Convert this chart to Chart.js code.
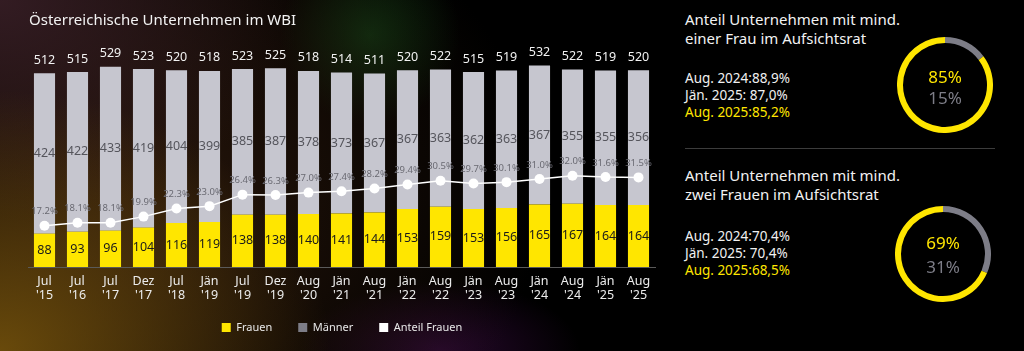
<!DOCTYPE html>
<html lang="de">
<head>
<meta charset="utf-8">
<script src="https://cdn.jsdelivr.net/npm/chart.js@4.4.1/dist/chart.umd.min.js"></script>
<style>
  html, body { margin: 0; padding: 0; }
  body {
    width: 1024px; height: 351px; overflow: hidden; position: relative;
    font-family: "Noto Sans", sans-serif; color: #f0f0f0;
    background:
      radial-gradient(ellipse 330px 260px at 0px 351px, rgba(120, 85, 12, 0.85), rgba(0,0,0,0) 100%),
      radial-gradient(ellipse 300px 220px at 0px 0px, rgba(55, 30, 38, 0.9), rgba(0,0,0,0) 100%),
      radial-gradient(ellipse 420px 351px at 120px 200px, rgba(45, 25, 12, 0.9), rgba(0,0,0,0) 100%),
      radial-gradient(circle 90px at 370px 35px, rgba(18, 75, 25, 0.6), rgba(0,0,0,0) 100%),
      radial-gradient(ellipse 140px 70px at 440px 351px, rgba(70, 15, 80, 0.55), rgba(0,0,0,0) 100%),
      #000;
  }
  .abs { position: absolute; white-space: nowrap; }
  #title { left: 29px; top: 9px; font-size: 15px; color: #f2f2f2; }
  .rt { font-size: 15px; line-height: 19px; color: #f2f2f2; left: 685px; }
  .st { font-size: 13.5px; line-height: 17px; color: #f0f0f0; left: 685px; }
  .st .y { color: #ffe600; }
  .pct { font-size: 17px; text-align: center; width: 60px; }
  .py { color: #ffe600; }
  .pg { color: #7d7d87; }
  #sep { left: 685px; top: 148px; width: 310px; height: 1px; background: #3c3c3c; }
</style>
</head>
<body>
<canvas id="main" width="660" height="351" class="abs" style="left:0;top:0"></canvas>
<div id="title" class="abs">Österreichische Unternehmen im WBI</div>

<div class="abs rt" style="top:10px">Anteil Unternehmen mit mind.<br>einer Frau im Aufsichtsrat</div>
<div class="abs st" style="top:70px">Aug. 2024:88,9%<br>Jän. 2025: 87,0%<br><span class="y">Aug. 2025:85,2%</span></div>
<canvas id="ring1" width="96" height="96" class="abs" style="left:897px;top:37px"></canvas>
<div class="abs pct py" style="left:915px;top:65px">85%</div>
<div class="abs pct pg" style="left:915px;top:86px">15%</div>

<div id="sep" class="abs"></div>

<div class="abs rt" style="top:166px">Anteil Unternehmen mit mind.<br>zwei Frauen im Aufsichtsrat</div>
<div class="abs st" style="top:228px">Aug. 2024:70,4%<br>Jän. 2025: 70,4%<br><span class="y">Aug. 2025:68,5%</span></div>
<canvas id="ring2" width="96" height="96" class="abs" style="left:895px;top:206px"></canvas>
<div class="abs pct py" style="left:913px;top:231px">69%</div>
<div class="abs pct pg" style="left:913px;top:255px">31%</div>

<script>
const YELLOW = "#ffe600";
const GREY = "#c6c6cf";
const GREY_DARK = "#7d7d87";

const periods = [
  ["Jul", "'15"], ["Jul", "'16"], ["Jul", "'17"], ["Dez", "'17"], ["Jul", "'18"],
  ["Jän", "'19"], ["Jul", "'19"], ["Dez", "'19"], ["Aug", "'20"], ["Jän", "'21"],
  ["Aug", "'21"], ["Jän", "'22"], ["Aug", "'22"], ["Jän", "'23"], ["Aug", "'23"],
  ["Jän", "'24"], ["Aug", "'24"], ["Jän", "'25"], ["Aug", "'25"],
];
const frauen = [88, 93, 96, 104, 116, 119, 138, 138, 140, 141, 144, 153, 159, 153, 156, 165, 167, 164, 164];
const maenner = [424, 422, 433, 419, 404, 399, 385, 387, 378, 373, 367, 367, 363, 362, 363, 367, 355, 355, 356];
const gesamt = [512, 515, 529, 523, 520, 518, 523, 525, 518, 514, 511, 520, 522, 515, 519, 532, 522, 519, 520];
const anteilFrauen = [17.2, 18.1, 18.1, 19.9, 22.3, 23.0, 26.4, 26.3, 27.0, 27.4, 28.2, 29.4, 30.5, 29.7, 30.1, 31.0, 32.0, 31.6, 31.5];

const ring1Values = [14.8, 85.2];
const ring2Values = [31.5, 68.5];

Chart.defaults.font.family = "'Noto Sans', sans-serif";

// value labels on bars and line points
const valueLabels = {
  id: "valueLabels",
  afterLayout(chart) {
    // let the two-line tick labels run below the (short) x axis box
    chart.scales.x.bottom += 16;
  },
  afterDatasetsDraw(chart) {
    const ctx = chart.ctx;
    const fMeta = chart.getDatasetMeta(0);
    const mMeta = chart.getDatasetMeta(1);
    const lMeta = chart.getDatasetMeta(2);
    ctx.save();
    ctx.textAlign = "center";
    ctx.textBaseline = "middle";
    fMeta.data.forEach((bar, i) => {
      ctx.font = "12.5px 'Noto Sans'";
      ctx.fillStyle = "#1a1a1a";
      ctx.fillText(frauen[i], bar.x, (bar.y + bar.base) / 2);
      const m = mMeta.data[i];
      ctx.fillStyle = "#55555c";
      ctx.fillText(maenner[i], m.x, (m.y + m.base) / 2);
      ctx.fillStyle = "#f2f2f2";
      ctx.fillText(gesamt[i], m.x, m.y - 13);
      const p = lMeta.data[i];
      ctx.font = "9.5px 'Noto Sans'";
      ctx.fillStyle = "#6a6a72";
      ctx.fillText(anteilFrauen[i].toFixed(1) + "%", p.x, p.y - 14);
    });
    ctx.restore();
  },
};

new Chart(document.getElementById("main"), {
  type: "bar",
  data: {
    labels: periods,
    datasets: [
      { label: "Frauen", data: frauen, backgroundColor: YELLOW, borderWidth: 0, stack: "s" },
      { label: "Männer", data: maenner, backgroundColor: GREY, borderWidth: 0, stack: "s" },
      {
        label: "Anteil Frauen", type: "line", data: anteilFrauen, yAxisID: "y1", order: -1,
        borderColor: "#ffffff", backgroundColor: "#ffffff", borderWidth: 1.5,
        pointRadius: 5, pointBackgroundColor: "#ffffff", pointBorderWidth: 0, tension: 0,
      },
    ],
  },
  options: {
    responsive: false,
    animation: false,
    events: [],
    layout: { padding: { top: 55, left: 28, right: 4, bottom: 8 } },
    datasets: { bar: { categoryPercentage: 1, barPercentage: 0.64 } },
    plugins: {
      tooltip: { enabled: false },
      legend: {
        position: "bottom",
        labels: {
          color: "#e8e8e8", font: { size: 11 }, boxWidth: 9, boxHeight: 9, padding: 26,
          sort: (a, b) => a.datasetIndex - b.datasetIndex,
          generateLabels(chart) {
            const cols = [YELLOW, GREY_DARK, "#ffffff"];
            return chart.data.datasets.map((d, i) => ({
              text: d.label, fillStyle: cols[i], strokeStyle: cols[i], lineWidth: 0,
              fontColor: "#e8e8e8", datasetIndex: i,
            }));
          },
        },
      },
    },
    scales: {
      x: {
        stacked: true,
        grid: { display: false, drawTicks: false },
        border: { display: true, color: "#5a5a5a", width: 1 },
        ticks: { color: "#ececec", font: { size: 12.5, lineHeight: 1.1 }, padding: 8, maxRotation: 0, autoSkip: false },
        afterFit(scale) { scale.height = 29; },
      },
      y: { stacked: true, display: false, min: 0, max: 560 },
      y1: { display: false, min: 5, max: 67.7 },
    },
  },
  plugins: [valueLabels],
});

function ring(id, values) {
  new Chart(document.getElementById(id), {
    type: "doughnut",
    data: {
      labels: ["ohne", "mit"],
      datasets: [{ data: values, backgroundColor: [GREY_DARK, YELLOW], borderWidth: 0 }],
    },
    options: {
      responsive: false,
      animation: false,
      events: [],
      cutout: "87.5%",
      plugins: { legend: { display: false }, tooltip: { enabled: false } },
    },
  });
}
ring("ring1", ring1Values);
ring("ring2", ring2Values);
</script>
</body>
</html>
